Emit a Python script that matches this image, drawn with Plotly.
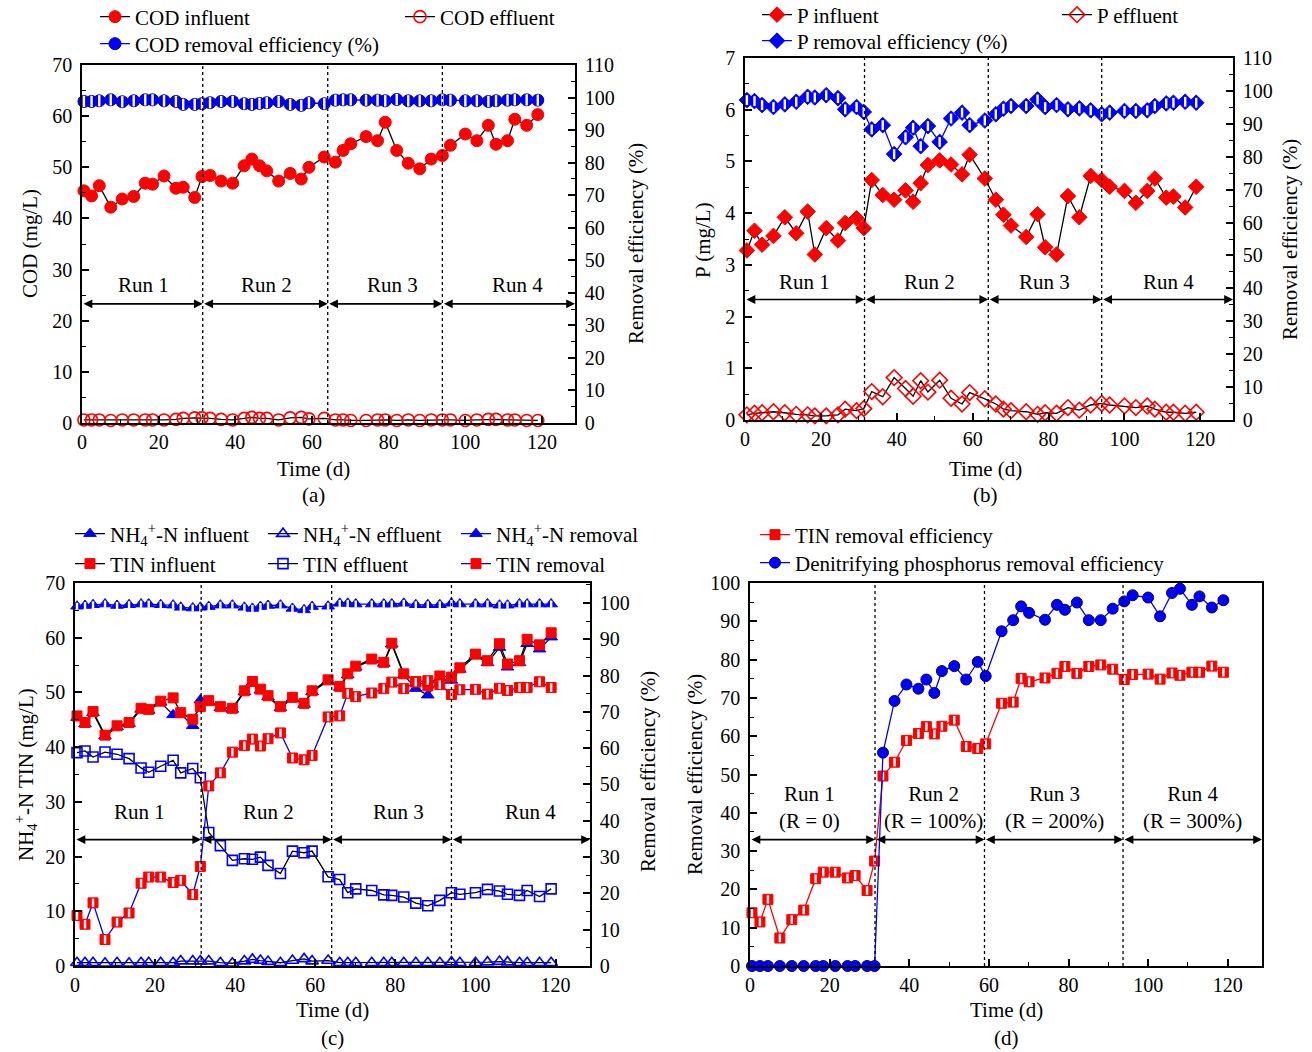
import plotly.graph_objects as go

W, H = 1312, 1052
FONT = "Liberation Serif"

# ---------------- data ----------------
days = [0.5, 2.5, 4.5, 7.5, 10.5, 13.5, 16.5, 18.4, 21.4, 24.5, 26.4, 29.4, 31.3,
        33.4, 36.3, 39.3, 42.3, 44.3, 46.3, 48.2, 51.3, 54.3, 57.2, 59.2,
        63.2, 66.1, 68.1, 70.1, 74.1, 77.1, 79.1, 82.1, 85.1, 88.1, 91.1,
        94.0, 96.1, 100.0, 103.0, 106.0, 108.0, 111.0, 112.9, 116.0, 118.9]

cod_influent = [45.4, 44.4, 46.4, 42.2, 43.8, 44.3, 46.9, 46.7, 48.3, 45.9, 46.1, 44.1, 48.2,
                48.4, 47.3, 46.9, 50.3, 51.6, 50.3, 49.3, 47.3, 48.8, 47.7, 50.0,
                52.0, 51.0, 53.3, 54.6, 56.0, 55.2, 58.8, 53.3, 50.8, 49.7, 51.6,
                52.3, 54.3, 56.5, 55.2, 58.2, 54.5, 55.2, 59.4, 58.2, 60.3]
cod_effluent = [0.6, 0.6, 0.6, 0.5, 0.6, 0.6, 0.6, 0.6, 0.6, 0.7, 0.9, 1.0, 1.0,
                0.9, 0.7, 0.6, 0.9, 1.1, 0.9, 0.9, 0.6, 1.0, 1.1, 0.8,
                0.9, 0.6, 0.6, 0.5, 0.5, 0.6, 0.6, 0.5, 0.6, 0.5, 0.6,
                0.6, 0.6, 0.5, 0.6, 0.7, 0.7, 0.6, 0.6, 0.5, 0.5]
cod_removal = [98.8, 98.8, 99.0, 99.3, 98.7, 99.0, 99.3, 99.3, 99.0, 98.8, 97.9, 97.9, 98.1,
               98.4, 98.8, 98.8, 98.1, 97.9, 98.2, 98.4, 98.8, 97.9, 97.6, 98.4,
               98.1, 99.2, 99.3, 99.3, 99.2, 99.2, 99.0, 99.4, 99.0, 99.0, 99.0,
               99.3, 99.2, 99.0, 99.0, 98.8, 99.0, 99.2, 99.3, 99.3, 99.2]

p_influent = [3.28, 3.66, 3.39, 3.56, 3.92, 3.61, 4.03, 3.20, 3.71, 3.47, 3.81, 3.90, 3.71,
              4.64, 4.35, 4.26, 4.44, 4.22, 4.58, 4.93, 5.02, 4.94, 4.75, 5.13,
              4.67, 4.26, 3.97, 3.76, 3.54, 3.98, 3.34, 3.20, 4.33, 3.92, 4.72,
              4.64, 4.51, 4.43, 4.20, 4.43, 4.67, 4.30, 4.32, 4.11, 4.51]
p_effluent = [0.10, 0.13, 0.14, 0.16, 0.14, 0.11, 0.10, 0.08, 0.08, 0.10, 0.21, 0.18, 0.22,
              0.55, 0.45, 0.82, 0.61, 0.46, 0.76, 0.54, 0.77, 0.42, 0.31, 0.53,
              0.41, 0.31, 0.21, 0.18, 0.16, 0.11, 0.14, 0.13, 0.24, 0.19, 0.29,
              0.32, 0.29, 0.27, 0.24, 0.27, 0.21, 0.15, 0.15, 0.13, 0.15]
p_removal = [97.2, 96.9, 95.7, 95.1, 95.9, 96.7, 98.2, 98.0, 98.7, 97.8, 94.4, 95.1, 93.6,
             88.3, 89.6, 80.8, 85.9, 88.8, 83.2, 89.3, 84.5, 91.6, 93.4, 89.6,
             91.0, 92.9, 94.6, 95.4, 95.4, 97.4, 95.1, 95.7, 94.4, 94.7, 94.1,
             92.9, 93.4, 93.9, 93.9, 94.1, 95.4, 96.2, 96.4, 96.7, 96.4]

nh4_influent = [45.4, 44.2, 46.3, 42.0, 43.7, 44.3, 46.9, 46.7, 48.2, 45.9, 46.1, 43.9, 48.6,
                48.3, 47.2, 46.9, 50.1, 51.8, 50.4, 49.2, 47.2, 48.9, 47.8, 50.1,
                52.1, 50.9, 53.2, 54.6, 55.9, 55.3, 58.8, 53.2, 50.7, 49.5, 52.6,
                52.2, 54.2, 56.7, 55.4, 58.2, 54.6, 55.4, 58.9, 57.9, 60.1]
nh4_effluent = [0.6, 0.6, 0.6, 0.5, 0.6, 0.5, 0.6, 0.6, 0.6, 0.6, 0.9, 0.9, 0.9,
                0.9, 0.6, 0.5, 0.9, 1.2, 1.0, 0.8, 0.6, 1.0, 1.3, 0.9,
                1.0, 0.6, 0.6, 0.6, 0.6, 0.6, 0.6, 0.6, 0.6, 0.6, 0.6,
                0.7, 0.6, 0.6, 0.7, 0.8, 0.7, 0.6, 0.6, 0.6, 0.6]
nh4_removal = [99.1, 99.3, 99.5, 99.7, 99.3, 99.5, 99.7, 99.7, 99.5, 99.4, 98.8, 98.6, 98.8,
               99.0, 99.4, 99.4, 98.8, 98.5, 99.0, 99.3, 99.4, 98.5, 98.1, 99.0,
               99.1, 99.9, 99.9, 99.7, 99.7, 99.7, 99.7, 99.9, 99.5, 99.5, 99.5,
               99.9, 99.7, 99.7, 99.7, 99.4, 99.4, 99.7, 99.7, 99.7, 99.7]
tin_influent = [45.7, 44.5, 46.5, 42.2, 43.9, 44.5, 47.1, 46.9, 48.4, 49.0, 46.3, 45.1, 47.4,
                48.5, 47.4, 47.1, 50.3, 52.0, 50.6, 49.4, 47.4, 49.1, 48.0, 50.3,
                52.3, 51.1, 53.4, 54.8, 56.1, 55.5, 59.0, 53.4, 52.0, 51.2, 53.0,
                52.8, 54.5, 57.0, 55.8, 58.9, 55.2, 55.8, 59.7, 58.7, 60.9]
tin_effluent = [39.0, 39.3, 38.2, 39.1, 38.7, 37.9, 36.2, 35.4, 36.5, 37.6, 35.3, 36.1, 34.4,
                24.4, 22.0, 19.3, 19.6, 19.5, 19.9, 18.4, 16.9, 21.0, 20.7, 21.0,
                16.3, 15.8, 13.4, 14.1, 13.8, 13.0, 12.9, 12.6, 11.5, 11.0, 12.0,
                13.4, 13.1, 13.4, 14.0, 13.7, 13.1, 12.9, 13.8, 12.7, 14.1]
tin_removal = [13.9, 11.5, 17.4, 7.3, 12.1, 14.6, 22.8, 24.5, 24.5, 23.0, 23.6, 19.7, 27.4,
               49.6, 53.2, 58.9, 60.7, 62.5, 60.6, 62.6, 64.2, 57.3, 56.8, 58.0,
               68.6, 68.9, 75.1, 74.2, 75.2, 76.4, 78.2, 76.4, 78.2, 78.6, 77.5,
               74.8, 76.1, 76.2, 74.9, 76.5, 75.9, 76.7, 76.7, 78.3, 76.7]
dpr_removal = [0, 0, 0, 0, 0, 0, 0, 0, 0, 0, 0, 0, 0,
               55.7, 69.2, 73.5, 72.4, 74.8, 71.3, 77.0, 78.3, 74.8, 79.4, 75.7,
               87.4, 90.3, 93.9, 92.2, 90.4, 94.3, 93.0, 94.9, 90.3, 90.3, 93.3,
               95.2, 96.8, 96.2, 91.3, 97.4, 98.5, 94.3, 96.5, 93.6, 95.5]

run_labels = ["Run 1", "Run 2", "Run 3", "Run 4"]
run_labels_d = ["Run 1<br>(R = 0)", "Run 2<br>(R = 100%)", "Run 3<br>(R = 200%)", "Run 4<br>(R = 300%)"]
run_bounds_abc = [0, 31.5, 64.1, 94.0, 128.6]
run_bounds_d = [0, 31.4, 58.9, 93.7, 128.6]

# ---------------- figure ----------------
fig = go.Figure()
RED, BLUE, BLACK = "#ff0000", "#0000ff", "#000000"


def add_series(xa, ya, y, name, legend, symbol, mcolor, lcolor, size,
               open_=False, stripe=False, mline=None, stripe_size=None):
    fig.add_trace(go.Scatter(
        x=days, y=y, xaxis=xa, yaxis=ya, mode="lines+markers", name=name,
        legend=legend, cliponaxis=False,
        line=dict(color=lcolor, width=1.3),
        marker=dict(symbol=symbol, size=size, color=mcolor,
                    line=dict(color=mline or mcolor, width=1.6 if open_ else 1))))
    if stripe:
        fig.add_trace(go.Scatter(
            x=days, y=y, xaxis=xa, yaxis=ya, mode="markers", showlegend=False,
            hoverinfo="skip", cliponaxis=False,
            marker=dict(symbol="line-ns", size=stripe_size or size * 0.55,
                        line=dict(color="white", width=2.4))))


# (a)
add_series("x", "y", cod_influent, "COD influent", "legend", "circle", RED, BLACK, 12)
add_series("x", "y", cod_effluent, "COD effluent", "legend", "circle-open", RED, BLACK, 12, open_=True)
add_series("x", "y2", cod_removal, "COD removal efficiency (%)", "legend2", "circle", BLUE, BLUE, 12,
           stripe=True, mline="#0000aa", stripe_size=8)
# (b)
add_series("x2", "y3", p_influent, "P influent", "legend3", "diamond", RED, BLACK, 12)
add_series("x2", "y3", p_effluent, "P effluent", "legend3", "diamond-open", RED, BLACK, 12, open_=True)
add_series("x2", "y4", p_removal, "P removal efficiency (%)", "legend4", "diamond", BLUE, BLUE, 12,
           stripe=True, stripe_size=7)
# (c)
NH4 = "NH<sub>4</sub><sup>+</sup>-N"
add_series("x3", "y5", nh4_influent, NH4 + " influent", "legend5", "triangle-up", BLUE, BLACK, 11)
add_series("x3", "y5", nh4_effluent, NH4 + " effluent", "legend5", "triangle-up-open", BLUE, BLACK, 11, open_=True)
add_series("x3", "y6", nh4_removal, NH4 + " removal", "legend5", "triangle-up", BLUE, BLUE, 11,
           stripe=True, stripe_size=5)
add_series("x3", "y5", tin_influent, "TIN influent", "legend6", "square", RED, BLACK, 10)
add_series("x3", "y5", tin_effluent, "TIN effluent", "legend6", "square-open", BLUE, BLACK, 10, open_=True)
add_series("x3", "y6", tin_removal, "TIN removal", "legend6", "square", RED, BLUE, 10,
           stripe=True, stripe_size=6)
# (d)
add_series("x4", "y7", tin_removal, "TIN removal efficiency", "legend7", "square", RED, RED, 10,
           stripe=True, stripe_size=6)
add_series("x4", "y7", dpr_removal, "Denitrifying phosphorus removal efficiency", "legend8",
           "circle", BLUE, BLUE, 11, mline="#00007a")

# ---------------- axes ----------------
tickfont = dict(family=FONT, size=20, color=BLACK)


def ax(**kw):
    d = dict(showline=True, linecolor=BLACK, linewidth=1.5, ticks="inside", ticklen=7,
             tickwidth=1.5, tickcolor=BLACK, showgrid=False, zeroline=False,
             tickfont=tickfont, ticklabelstandoff=4, automargin=False)
    d.update(kw)
    return d


def minor(dt):
    return dict(dtick=dt, ticks="inside", ticklen=4, tickwidth=1.2, tickcolor=BLACK, showgrid=False)


def dom_x(a, b):
    return [a / W, b / W]


def dom_y(top, bot):
    return [1 - bot / H, 1 - top / H]


xcommon = dict(range=[0, 128.6], tick0=0, dtick=20, minor=minor(10), mirror=True,
               ticklabelstandoff=0)

fig.update_layout(
    width=W, height=H, margin=dict(l=0, r=0, t=0, b=0, autoexpand=False),
    paper_bgcolor="white", plot_bgcolor="white",
    font=dict(family=FONT, size=20, color=BLACK),
    xaxis=ax(domain=dom_x(82, 575), anchor="y", **xcommon),
    yaxis=ax(domain=dom_y(65, 423), anchor="x", range=[0, 70], dtick=10, minor=minor(5)),
    yaxis2=ax(overlaying="y", side="right", anchor="x", range=[0, 110], dtick=10, minor=minor(5)),
    xaxis2=ax(domain=dom_x(745, 1233), anchor="y3", **xcommon),
    yaxis3=ax(domain=dom_y(58, 420), anchor="x2", range=[0, 7], dtick=1, minor=minor(0.5)),
    yaxis4=ax(overlaying="y3", side="right", anchor="x2", range=[0, 110], dtick=10, minor=minor(5)),
    xaxis3=ax(domain=dom_x(75, 590), anchor="y5", **xcommon),
    yaxis5=ax(domain=dom_y(583, 966), anchor="x3", range=[0, 70], dtick=10, minor=minor(5)),
    yaxis6=ax(overlaying="y5", side="right", anchor="x3", range=[0, 105.5], dtick=10, minor=minor(5)),
    xaxis4=ax(domain=dom_x(750, 1262), anchor="y7", **xcommon),
    yaxis7=ax(domain=dom_y(583, 966), anchor="x4", range=[0, 100], dtick=10, minor=minor(5), mirror=True),
)

# ---------------- legends ----------------
def legend_cfg(xp, yp, ew=None):
    d = dict(x=(xp) / W, y=1 - yp / H, xanchor="left", yanchor="middle", orientation="h",
             font=dict(family=FONT, size=21, color=BLACK), bgcolor="rgba(0,0,0,0)",
             itemwidth=30, tracegroupgap=0)
    if ew:
        d["entrywidth"] = ew
    return d


fig.update_layout(
    legend=legend_cfg(95, 17, 260),
    legend2=legend_cfg(95, 44),
    legend3=legend_cfg(757, 15, 255),
    legend4=legend_cfg(757, 41),
    legend5=legend_cfg(70, 534, 148),
    legend6=legend_cfg(70, 564, 148),
    legend7=legend_cfg(755, 535),
    legend8=legend_cfg(755, 563),
)

# ---------------- runs: dashed lines, arrows, labels ----------------
shapes, annotations = [], []
afont = dict(family=FONT, size=21, color=BLACK)


def add_runs(xa, ya, bounds, arrow_y, label_y, label_x, labels):
    for b in bounds[1:-1]:
        shapes.append(dict(type="line", xref=xa, yref=ya + " domain", x0=b, x1=b, y0=0, y1=1,
                           line=dict(color=BLACK, width=1.3, dash="3px,3px")))
    for i in range(4):
        annotations.append(dict(x=bounds[i + 1], y=arrow_y, ax=bounds[i], ay=arrow_y,
                                xref=xa, yref=ya, axref=xa, ayref=ya, text="",
                                showarrow=True, arrowhead=2, startarrowhead=2,
                                arrowside="end+start", arrowsize=1.1, startarrowsize=1.1,
                                arrowwidth=1.6, arrowcolor=BLACK, standoff=0, startstandoff=0))
        annotations.append(dict(x=label_x[i], y=label_y, xref=xa, yref=ya, text=labels[i],
                                showarrow=False, font=afont))


add_runs("x", "y", run_bounds_abc, 23.3, 26.9, [16.1, 48.2, 81.0, 113.5], run_labels)
add_runs("x2", "y3", run_bounds_abc, 2.33, 2.67, [15.6, 48.7, 79.0, 111.7], run_labels)
add_runs("x3", "y5", run_bounds_abc, 23.1, 28.2, [16.0, 48.3, 80.9, 113.7], run_labels)
add_runs("x4", "y7", run_bounds_d, 33.0, 41.5, [14.9, 46.1, 76.6, 111.2], run_labels_d)


def paper_text(xp, yp, text, angle=0):
    annotations.append(dict(x=xp / W, y=1 - yp / H, xref="paper", yref="paper", text=text,
                            showarrow=False, font=afont, textangle=angle,
                            xanchor="center", yanchor="middle"))


paper_text(30, 244, "COD (mg/L)", -90)
paper_text(636, 244, "Removal efficiency (%)", -90)
paper_text(313, 469, "Time (d)")
paper_text(313, 495, "(a)")
paper_text(703, 240, "P (mg/L)", -90)
paper_text(1290, 240, "Removal efficiency (%)", -90)
paper_text(985, 469, "Time (d)")
paper_text(985, 495, "(b)")
paper_text(25, 775, "NH<sub>4</sub><sup>+</sup>-N TIN (mg/L)", -90)
paper_text(648, 772, "Removal efficiency (%)", -90)
paper_text(333, 1010, "Time (d)")
paper_text(333, 1038, "(c)")
paper_text(695, 775, "Removal efficiency (%)", -90)
paper_text(1006, 1010, "Time (d)")
paper_text(1006, 1038, "(d)")

fig.update_layout(shapes=shapes, annotations=annotations)

fig.write_html("out.html")
